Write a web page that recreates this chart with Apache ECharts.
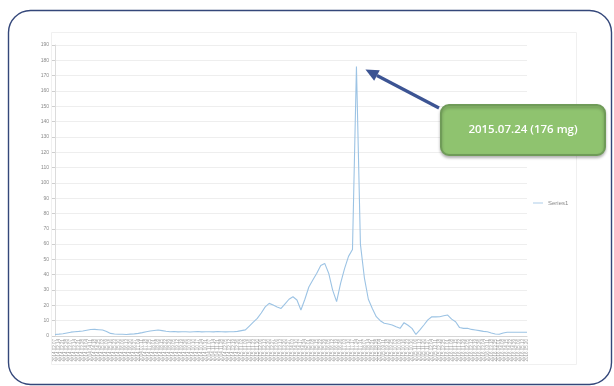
<!DOCTYPE html>
<html>
<head>
<meta charset="utf-8">
<script src="https://cdn.jsdelivr.net/npm/echarts@6/dist/echarts.min.js"></script>
<style>
  html, body { margin: 0; padding: 0; background: #ffffff; }
  #chart { width: 614px; height: 386px; }
</style>
</head>
<body>
<div id="chart"></div>
<script>
// Weekly observation dates (start of series) and the dose recorded each week (mg)
const startDate = new Date(Date.UTC(2014, 1, 7));
const weekCount = 120;
const doseMg = [
  1.0, 1.2, 1.5, 2.0, 2.5, 2.8, 3.0, 3.3, 3.8, 4.2,
  4.3, 4.1, 3.9, 3.0, 1.7, 1.3, 1.1, 1.1, 1.0, 1.2,
  1.4, 1.7, 2.2, 2.8, 3.3, 3.6, 3.9, 3.5, 3.1, 2.8,
  2.9, 2.7, 2.8, 2.8, 2.6, 2.8, 2.9, 2.7, 2.8, 2.8,
  2.7, 2.9, 2.8, 2.7, 2.8, 2.8, 3.0, 3.5, 4.0, 6.5,
  9.0, 11.5, 15.0, 19.0, 21.3, 20.2, 19.0, 18.0, 21.0, 24.0,
  25.6, 23.5, 17.0, 24.0, 32.0, 36.5, 41.0, 46.0, 47.4, 41.0,
  30.0, 22.4, 34.3, 44.0, 52.0, 56.5, 176.0, 60.0, 38.0, 24.0,
  18.0, 12.6, 10.0, 8.3, 7.8, 7.2, 6.0, 5.0, 8.7, 7.0,
  5.0, 1.0, 4.0, 7.2, 10.5, 12.6, 12.5, 12.6, 13.2, 13.7,
  11.0, 9.3, 5.5, 5.0, 5.0, 4.3, 3.9, 3.5, 3.0, 2.8,
  2.0, 1.3, 1.1, 2.0, 2.4, 2.4, 2.4, 2.4, 2.4, 2.4
];
const yTicks = { min: 0, max: 190, step: 10 };
const seriesName = 'Series1';

function pad(n) { return (n < 10 ? '0' : '') + n; }
function fmtDate(d) {
  return d.getUTCFullYear() + '.' + pad(d.getUTCMonth() + 1) + '.' + pad(d.getUTCDate());
}
const weekLabels = [];
for (let i = 0; i < weekCount; i++) {
  const d = new Date(startDate.getTime() + i * 7 * 86400000);
  weekLabels.push(fmtDate(d));
}

// Highest week, used for the callout
let peakIdx = 0;
for (let i = 1; i < doseMg.length; i++) if (doseMg[i] > doseMg[peakIdx]) peakIdx = i;
const calloutText = weekLabels[peakIdx] + ' (' + doseMg[peakIdx] + ' mg)';

const chart = echarts.init(document.getElementById('chart'), null, { renderer: 'canvas' });

const option = {
  animation: false,
  backgroundColor: '#ffffff',
  grid: { left: 55, right: 87, top: 45, bottom: 50, containLabel: false },
  legend: {
    data: [{ name: seriesName, icon: 'path://M0,4 L12,4 L12,5 L0,5 Z' }],
    left: 528, top: 195,
    itemWidth: 10, itemHeight: 4, itemGap: 2,
    textStyle: { fontSize: 6, color: '#8a8a8a', fontFamily: 'Liberation Sans' }
  },
  xAxis: {
    type: 'category',
    data: weekLabels,
    boundaryGap: false,
    axisLine: { lineStyle: { color: '#d6d6d6', width: 1 } },
    axisTick: { show: false },
    axisLabel: {
      interval: 0, rotate: 90, fontSize: 4.5, color: '#9a9a9a',
      margin: 3, fontFamily: 'Liberation Sans'
    },
    splitLine: { show: false }
  },
  yAxis: {
    type: 'value',
    min: yTicks.min, max: yTicks.max, interval: yTicks.step,
    axisLine: { show: true, lineStyle: { color: '#dcdcdc' } },
    axisTick: { show: true, length: 3, lineStyle: { color: '#cfcfcf' } },
    axisLabel: { fontSize: 5, color: '#8a8a8a', margin: 6, fontFamily: 'Liberation Sans' },
    splitLine: { lineStyle: { color: '#eeeeee', width: 1 } }
  },
  series: [{
    name: seriesName,
    type: 'line',
    data: doseMg,
    symbol: 'none',
    lineStyle: { color: '#9cc3e4', width: 1.1 },
    itemStyle: { color: '#9cc3e4' }
  }]
};
chart.setOption(option);

// Frame, inner chart border, callout box and arrow pointing at the peak week
const tip = chart.convertToPixel({ seriesIndex: 0 }, [peakIdx, doseMg[peakIdx]]);
const tipX = tip[0] + 9, tipY = tip[1] + 3;
const box = { x: 441, y: 105, w: 164, h: 50 };
const tailX = box.x - 2, tailY = box.y + 3;
const ang = Math.atan2(tailY - tipY, tailX - tipX);
const headLen = 13, headHalf = 6;
const bx = tipX + Math.cos(ang) * headLen, by = tipY + Math.sin(ang) * headLen;
const nx = -Math.sin(ang), ny = Math.cos(ang);

chart.setOption({
  graphic: [
    {
      type: 'rect', silent: true, z: 100,
      shape: { x: 8.5, y: 10.5, width: 603, height: 374, r: 22 },
      style: { fill: null, stroke: '#34477a', lineWidth: 1.4 }
    },
    {
      type: 'rect', silent: true, z: 1,
      shape: { x: 51.5, y: 32.5, width: 525, height: 332 },
      style: { fill: null, stroke: '#f0f0f0', lineWidth: 1 }
    },
    {
      type: 'line', silent: true, z: 110,
      shape: { x1: tailX, y1: tailY, x2: bx, y2: by },
      style: { stroke: '#3c5493', lineWidth: 3.2 }
    },
    {
      type: 'polygon', silent: true, z: 110,
      shape: { points: [[tipX, tipY], [bx + nx * headHalf, by + ny * headHalf], [bx - nx * headHalf, by - ny * headHalf]] },
      style: { fill: '#3c5493' }
    },
    {
      type: 'rect', silent: true, z: 110,
      shape: { x: box.x, y: box.y, width: box.w, height: box.h, r: 8 },
      style: {
        fill: '#8fc36f', stroke: '#6f9b58', lineWidth: 2,
        shadowBlur: 3, shadowColor: 'rgba(0,0,0,0.25)', shadowOffsetY: 2
      }
    },
    {
      type: 'text', silent: true, z: 111,
      style: {
        x: box.x + box.w / 2, y: box.y + box.h / 2,
        text: calloutText, fill: '#ffffff',
        font: '600 11.5px "Open Sans"',
        align: 'center', verticalAlign: 'middle'
      }
    }
  ]
});
</script>
</body>
</html>
